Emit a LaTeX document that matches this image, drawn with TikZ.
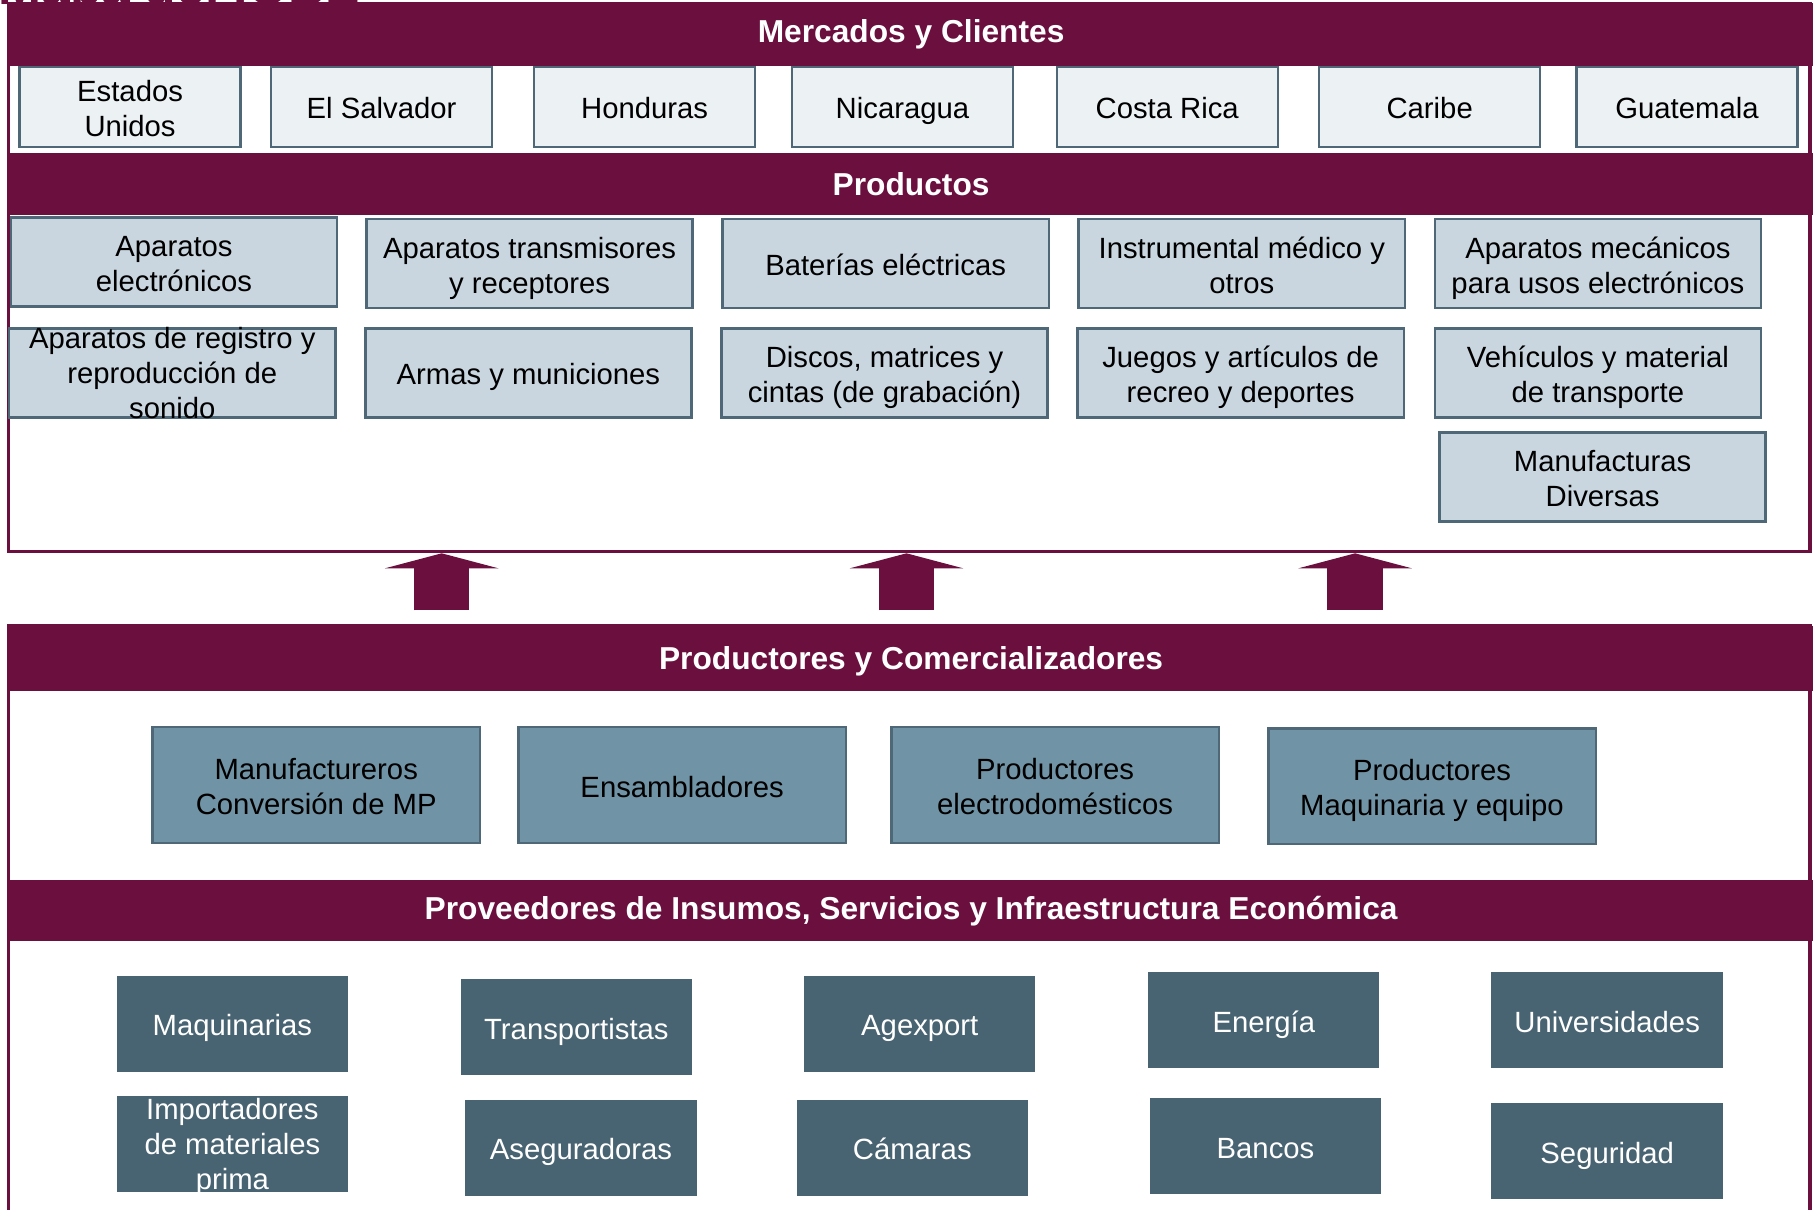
\documentclass[tikz,border=0pt]{standalone}
\usepackage{fontspec}
\setmainfont{Liberation Sans}
\usetikzlibrary{arrows.meta}
\definecolor{vino}{HTML}{6A0F3E}
\definecolor{gris}{HTML}{4F6878}
\definecolor{claro}{HTML}{ECF1F4}
\definecolor{celeste}{HTML}{C9D6DF}
\definecolor{acero}{HTML}{7093A5}
\definecolor{pizarra}{HTML}{486472}
\def \caja {\fontsize{7.2}{8.6}\selectfont}
\def \cabeza {\fontsize{7.8}{9}\selectfont\bfseries}
\def \alto {\rule{0pt}{7.4pt}}
\def \altodos {\rule{0pt}{16pt}}
\def \bajo {\rule[-1.5pt]{0pt}{1.5pt}}
\def \tres #1{\smash{\raisebox{0.4pt}{\begin{tabular}{@{}c@{}}#1\end{tabular}}}}
\tikzstyle{marco} = [draw=vino,line width=0.8pt,inner sep=0,minimum width=15.57cm]
\tikzstyle{banda} = [fill=vino,text=white,inner sep=0,minimum width=15.6cm,font=\cabeza]
\tikzstyle{texto} = [inner sep=0,align=center,font=\caja,execute at begin node=\alto,execute at end node=\bajo]
\tikzstyle{dos} = [execute at begin node=\altodos]
\tikzset{baja/.style={execute at begin node=\rule{0pt}{#1}}}
\tikzstyle{pais} = [texto,draw=gris,line width=0.6pt,fill=claro,minimum width=1.91cm,minimum height=0.69cm]
\tikzstyle{producto} = [texto,draw=gris,line width=0.6pt,fill=celeste,minimum width=2.82cm,minimum height=0.77cm]
\tikzstyle{productor} = [texto,draw=gris,line width=0.6pt,fill=acero,minimum width=2.83cm,minimum height=1cm]
\tikzstyle{proveedor} = [texto,fill=pizarra,text=white,minimum width=2cm,minimum height=0.83cm]
\tikzstyle{flecha} = [draw=vino,line width=0.48cm,-{Triangle[width=0.98cm,length=0.13cm]}]

\begin{document}
\begin{tikzpicture}[x=0.01cm,y=-0.01cm]
      \useasboundingbox (0,0) rectangle (1568,1046);
      \node[anchor=base west,inner sep=0,text=vino,font=\fontsize{12.7}{14}\selectfont\bfseries] (titulo) at (-2,4) {Mapa del IOBE};
      % marcos
      \node[marco,minimum height=4.74cm] (mercado) at (786.5,240) {};
      \node[marco,minimum height=5.29cm] (cadena) at (786.5,805.5) {};
      % bandas
      \node[banda,minimum height=0.54cm] (mc) at (788,30) {Mercados y Clientes};
      \node[banda,minimum height=0.54cm] (pr) at (788,159) {Productos};
      \node[banda,baja=6.8pt,minimum height=0.57cm] (pc) at (788,569.5) {Productores y Comercializadores};
      \node[banda,baja=6.1pt,minimum height=0.53cm] (pi) at (788,787.5) {Proveedores de Insumos, Servicios y Infraestructura Económica};
      % mercados
      \node[pais,dos] (c1) at (112.5,92.5) {Estados\\Unidos};
      \node[pais] (c2) at (330,92.5) {El Salvador};
      \node[pais] (c3) at (557.5,92.5) {Honduras};
      \node[pais] (c4) at (780.5,92.5) {Nicaragua};
      \node[pais] (c5) at (1009.5,92.5) {Costa Rica};
      \node[pais] (c6) at (1236.5,92.5) {Caribe};
      \node[pais] (c7) at (1459,92.5) {Guatemala};
      % productos
      \node[producto,dos] (p1) at (150.5,226.5) {Aparatos\\electrónicos};
      \node[producto,dos] (p2) at (458,228) {Aparatos transmisores\\y receptores};
      \node[producto] (p3) at (766,228) {Baterías eléctricas};
      \node[producto,dos] (p4) at (1074,228) {Instrumental médico y\\otros};
      \node[producto,dos] (p5) at (1382,228) {Aparatos mecánicos\\para usos electrónicos};
      \node[producto] (p6) at (149,322.5) {\tres{Aparatos de registro y\\reproducción de\\sonido}};
      \node[producto] (p7) at (457,322.5) {Armas y municiones};
      \node[producto,dos] (p8) at (765,322.5) {Discos, matrices y\\cintas (de grabación)};
      \node[producto,dos] (p9) at (1073,322.5) {Juegos y artículos de\\recreo y deportes};
      \node[producto,dos] (p10) at (1382,322.5) {Vehículos y material\\de transporte};
      \node[producto,dos] (p11) at (1386,412.5) {Manufacturas\\Diversas};
      % productores
      \node[productor,dos] (m1) at (273.5,679) {Manufactureros\\Conversión de MP};
      \node[productor] (m2) at (590,679) {Ensambladores};
      \node[productor,dos] (m3) at (912.5,679) {Productores\\electrodomésticos};
      \node[productor,dos] (m4) at (1238.5,680) {Productores\\Maquinaria y equipo};
      % proveedores
      \node[proveedor] (s1) at (201,885.5) {Maquinarias};
      \node[proveedor] (s2) at (498.5,888.5) {Transportistas};
      \node[proveedor] (s3) at (795.5,885.5) {Agexport};
      \node[proveedor] (s4) at (1093,882.5) {Energía};
      \node[proveedor] (s5) at (1390,882.5) {Universidades};
      \node[proveedor] (s6) at (201,989.5) {\tres{Importadores\\de materiales\\prima}};
      \node[proveedor] (s7) at (502.5,992.5) {Aseguradoras};
      \node[proveedor] (s8) at (789,992.5) {Cámaras};
      \node[proveedor] (s9) at (1094.5,991.5) {Bancos};
      \node[proveedor] (s10) at (1390,995.5) {Seguridad};
      % flechas
      \coordinate (a1) at (382,528);
      \coordinate (a2) at (784,528);
      \coordinate (a3) at (1172,528);
      \draw[flecha] (a1) -- (a1 |- mercado.south);
      \draw[flecha] (a2) -- (a2 |- mercado.south);
      \draw[flecha] (a3) -- (a3 |- mercado.south);
    \end{tikzpicture}
\end{document}
